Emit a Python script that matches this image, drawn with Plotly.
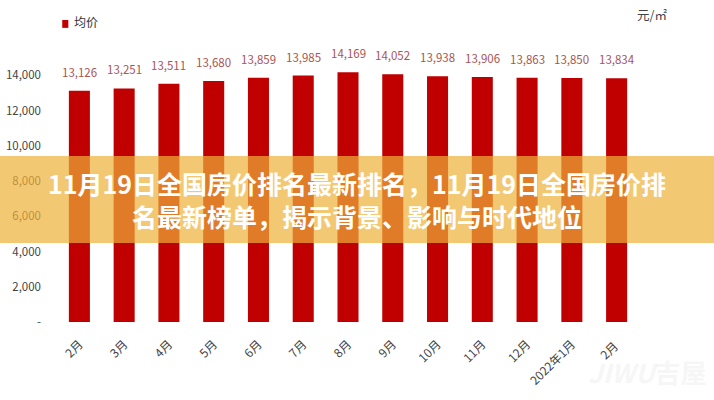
import plotly.graph_objects as go

months = ["2月", "3月", "4月", "5月", "6月", "7月", "8月", "9月", "10月", "11月", "12月", "2022年1月", "2月 "]
prices = [13126, 13251, 13511, 13680, 13859, 13985, 14169, 14052, 13938, 13906, 13863, 13850, 13834]
tick_vals = [0, 2000, 4000, 6000, 8000, 10000, 12000, 14000]
tick_text = ["-", "2,000", "4,000", "6,000", "8,000", "10,000", "12,000", "14,000"]
series_name = "均价"
unit_text = "元/㎡"
title_lines = ["11月19日全国房价排名最新排名，11月19日全国房价排", "名最新榜单，揭示背景、影响与时代地位"]

FONT = "Noto Sans CJK SC"
BAR = "#c00000"

fig = go.Figure()
fig.add_trace(go.Bar(
    x=months, y=prices, name=series_name,
    marker=dict(color=BAR, line=dict(width=0)),
    width=0.47, showlegend=False,
))

for m, p in zip(months, prices):
    fig.add_annotation(x=m, y=p, text=f"{p:,}", showarrow=False, yshift=19,
                       font=dict(family=FONT, size=11.5, color="#a85555"))

# legend (manual)
fig.add_shape(type="rect", xref="paper", yref="paper", x0=0.009, x1=0.0195, y0=1.043, y1=1.071,
              fillcolor=BAR, line=dict(width=0))
fig.add_annotation(xref="paper", yref="paper", x=0.026, y=1.064, xanchor="left", yanchor="middle",
                   text=series_name, showarrow=False, font=dict(family=FONT, size=12, color="#333"))

fig.add_annotation(xref="paper", yref="paper", x=1.023, y=1.089, xanchor="center", yanchor="middle",
                   text=unit_text, showarrow=False, font=dict(family=FONT, size=12.5, color="#444"))

# overlay band
fig.add_shape(type="rect", xref="paper", yref="paper", x0=-0.2, x1=1.3, y0=0.280, y1=0.589,
              fillcolor="rgba(238,176,56,0.70)", line=dict(width=0), layer="above")
fig.add_annotation(xref="paper", yref="paper", x=0.515, y=0.435, yanchor="middle",
                   text="<b>" + title_lines[0] + "<br>" + title_lines[1] + "</b>",
                   showarrow=False, align="center",
                   font=dict(family=FONT, size=25, color="white"))

# watermark
fig.add_annotation(xref="paper", yref="paper", x=1.015, y=-0.177, xanchor="center", yanchor="middle",
                   text="<b><i>JIWU</i>吉屋</b>",
                   showarrow=False, font=dict(family=FONT, size=26, color="rgba(225,225,225,0.3)"))

fig.update_layout(
    width=714, height=400,
    margin=dict(l=56.6, r=74.6, t=40, b=78),
    paper_bgcolor="white", plot_bgcolor="white",
    showlegend=False,
    xaxis=dict(tickangle=-45, tickfont=dict(family=FONT, size=12, color="#444"),
               showline=False, showgrid=False, ticks="", range=[-0.5, 12.5],
               ticklabelstandoff=12, automargin=False),
    yaxis=dict(range=[0, 16000], tickvals=tick_vals, ticktext=tick_text,
               tickfont=dict(family=FONT, size=11.5, color="#444"),
               showgrid=False, zeroline=False, showline=False, ticklabelstandoff=15,
               automargin=False),
)

fig.write_html("out.html")
